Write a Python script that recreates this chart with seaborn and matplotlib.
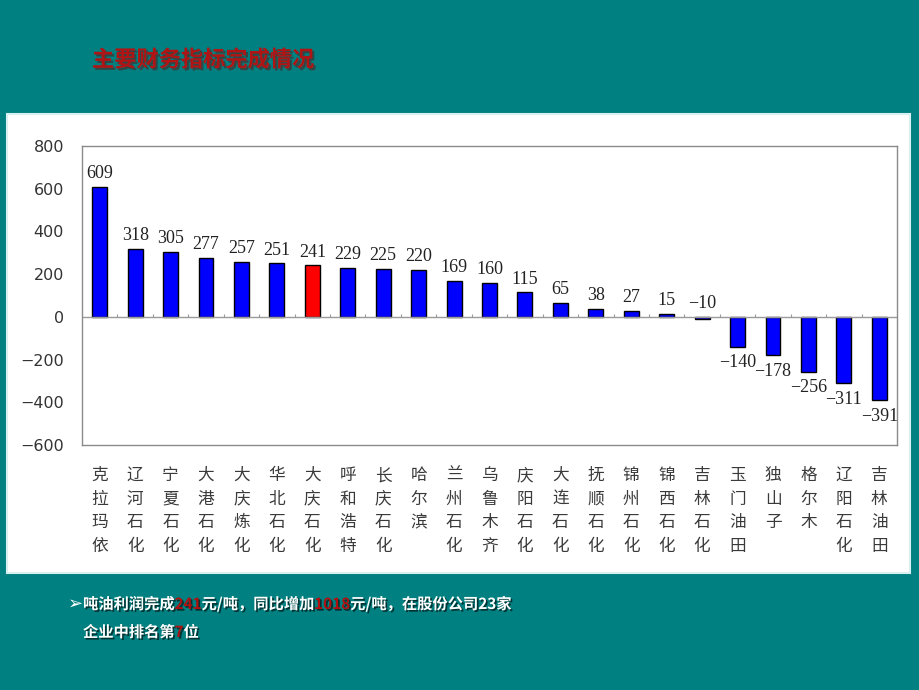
import matplotlib
matplotlib.use("Agg")
import matplotlib.pyplot as plt
import matplotlib.patheffects as pe
from matplotlib.patches import Rectangle
import seaborn as sns
import pandas as pd
import numpy as np

# ---------------- data ----------------
categories = ["克拉玛依", "辽河石化", "宁夏石化", "大港石化", "大庆炼化", "华北石化",
              "大庆石化", "呼和浩特", "长庆石化", "哈尔滨", "兰州石化", "乌鲁木齐",
              "庆阳石化", "大连石化", "抚顺石化", "锦州石化", "锦西石化", "吉林石化",
              "玉门油田", "独山子", "格尔木", "辽阳石化", "吉林油田"]
values = [609, 318, 305, 277, 257, 251, 241, 229, 225, 220, 169, 160,
          115, 65, 38, 27, 15, -10, -140, -178, -256, -311, -391]
highlight = "大庆石化"
y_ticks = [-600, -400, -200, 0, 200, 400, 600, 800]
title = "主要财务指标完成情况"
note_line1 = [("吨油利润完成", "w"), ("241", "r"), ("元/吨，同比增加", "w"),
              ("1018", "r"), ("元/吨，在股份公司23家", "w")]
note_line2 = [("企业中排名第", "w"), ("7", "r"), ("位", "w")]

df = pd.DataFrame({"企业": categories, "值": values})

# ---------------- style ----------------
sns.set_theme(style="white")
plt.rcParams["font.family"] = ["Noto Sans CJK SC", "DejaVu Sans"]
plt.rcParams["axes.unicode_minus"] = True

TEAL = "#008080"
fig = plt.figure(figsize=(9.2, 6.9), dpi=100, facecolor=TEAL)

# white panel
fig.patches.append(Rectangle((7 / 920, 1 - 573 / 690), (910 - 7) / 920, (573 - 114) / 690,
                             transform=fig.transFigure, facecolor="white",
                             edgecolor="#d8f0f0", linewidth=1.5, zorder=-5))

ax = fig.add_axes([82 / 920, 1 - 445 / 690, (897 - 82) / 920, (445 - 146) / 690])
ax.set_zorder(2)
ax.set_facecolor("white")

palette = {c: ("#ff0000" if c == highlight else "#0000ff") for c in categories}
sns.barplot(data=df, x="企业", y="值", hue="企业", order=categories,
            palette=palette, legend=False, width=0.42, saturation=1,
            edgecolor="black", linewidth=1.0, ax=ax)


def fmt(v):
    return str(v).replace("-", "\u2212")


ax.set_xlim(-0.5, len(categories) - 0.5)
ax.set_ylim(-600, 800)
ax.set_yticks(y_ticks)
ax.set_yticklabels([fmt(t) for t in y_ticks], family="DejaVu Sans", fontsize=11.5,
                   color="#333333")
ax.tick_params(axis="y", length=0, pad=13)
ax.set_xticks(range(len(categories)))
ax.set_xticklabels(["\n".join(c) for c in categories], fontsize=12, color="#3a3a3a",
                   linespacing=1.5, va="top")
ax.tick_params(axis="x", length=0, pad=16)
ax.set_xlabel("")
ax.set_ylabel("")
for s in ax.spines.values():
    s.set_color("#8a8a8a")
    s.set_linewidth(1.0)

# zero line and boundary ticks
ax.axhline(0, color="#9a9a9a", linewidth=1.0, zorder=1)
ax.vlines(np.arange(len(categories) - 1) + 0.5, 0, 14, color="#9a9a9a", linewidth=0.8, zorder=1)

# value labels
for i, v in enumerate(values):
    if v > -50:
        ax.text(i, max(v, 0) + 22, fmt(v), ha="center", va="bottom",
                family="Liberation Serif", fontsize=13, color="#222222")
    else:
        ax.text(i, v - 36, fmt(v), ha="center", va="top",
                family="Liberation Serif", fontsize=13, color="#222222")

# title
fig.text(92 / 920, 1 - 60 / 690, title, fontsize=16, fontweight="bold", color="#b01515",
         ha="left", va="center",
         path_effects=[pe.withSimplePatchShadow(offset=(1.5, -1.5), shadow_rgbFace="#3a3a3a",
                                                alpha=0.8)])

# bottom note with mixed colours
fig.canvas.draw()
renderer = fig.canvas.get_renderer()
inv = fig.transFigure.inverted()
shadow = [pe.withSimplePatchShadow(offset=(1.2, -1.2), shadow_rgbFace="black", alpha=0.6)]
colors = {"w": "white", "r": "#b01010"}


def draw_line(pieces, x0, y):
    x = x0
    for txt, c in pieces:
        t = fig.text(x, y, txt, fontsize=11, fontweight="bold", color=colors[c],
                     ha="left", va="center", path_effects=shadow)
        bb = t.get_window_extent(renderer)
        x = inv.transform((bb.x1, bb.y1))[0]


fig.text(68 / 920, 1 - 604 / 690, "➢", fontsize=13, color="white",
         family=["DejaVu Sans"], ha="left", va="center")
draw_line(note_line1, 83 / 920, 1 - 604 / 690)
draw_line(note_line2, 83 / 920, 1 - 632 / 690)

fig.savefig("out.png", dpi=100, facecolor=TEAL)
